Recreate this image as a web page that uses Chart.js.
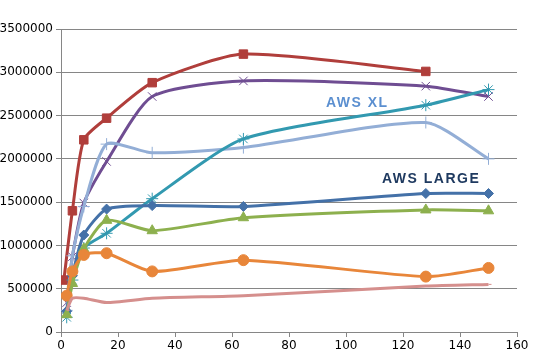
<!DOCTYPE html>
<html>
<head>
<meta charset="utf-8">
<script src="https://cdn.jsdelivr.net/npm/chart.js@4/dist/chart.umd.min.js"></script>
<style>
  html, body { margin: 0; padding: 0; background: #fff; }
  #wrap { position: relative; width: 542px; height: 363px; }
  .tag { position: absolute; font-family: "Liberation Sans", Arial, sans-serif; font-weight: bold; font-size: 14px; letter-spacing: 1.5px; white-space: nowrap; }
</style>
</head>
<body>
<div id="wrap">
  <canvas id="chart" width="542" height="363"></canvas>
  <div class="tag" style="left:326px; top:94px; color:#5B8FD0;">AWS XL</div>
  <div class="tag" style="left:382px; top:170px; color:#1F3A60;">AWS LARGE</div>
</div>
<script>
document.addEventListener('DOMContentLoaded', function() {
    // x positions (threads)
    const xRed = [1, 4, 8, 16, 32, 64, 128];
    const xAll = [2, 4, 8, 16, 32, 64, 128, 150];

    // series values
    const redVals = [600000, 1400000, 2220000, 2470000, 2880000, 3210000, 3010000];
    const purpleVals = [340000, 870000, 1490000, 1970000, 2720000, 2900000, 2840000, 2720000];
    const awsXlVals = [250000, 880000, 1450000, 2170000, 2070000, 2130000, 2420000, 2000000];
    const tealVals = [170000, 600000, 970000, 1140000, 1540000, 2230000, 2620000, 2800000];
    const awsLargeVals = [240000, 650000, 1120000, 1420000, 1460000, 1450000, 1600000, 1600000];
    const greenVals = [200000, 560000, 960000, 1290000, 1170000, 1320000, 1410000, 1400000];
    const orangeVals = [420000, 700000, 890000, 910000, 700000, 830000, 640000, 740000];
    const pinkVals = [250000, 390000, 390000, 340000, 390000, 420000, 530000, 550000];

    const yTicks = [0, 500000, 1000000, 1500000, 2000000, 2500000, 3000000, 3500000];

    function pts(xs, ys) {
        return xs.map(function(x, i) { return { x: x, y: ys[i] }; });
    }

    function series(xs, ys, color, style, radius) {
        return {
            data: pts(xs, ys),
            borderColor: color,
            backgroundColor: color,
            pointStyle: style,
            pointRadius: radius,
            pointBorderWidth: 1,
            borderWidth: 3,
            tension: 0.22,
            fill: false
        };
    }

    const ctx = document.getElementById('chart').getContext('2d');
    new Chart(ctx, {
        type: 'line',
        data: {
            datasets: [
                series(xAll, pinkVals, '#D58F8D', 'dash', 3),
                series(xAll, orangeVals, '#E8863A', 'circle', 5.5),
                series(xAll, greenVals, '#8DB04E', 'triangle', 6),
                series(xAll, awsLargeVals, '#4471A8', 'rectRot', 5),
                series(xAll, tealVals, '#3299B0', 'star', 6),
                series(xAll, awsXlVals, '#93AED6', 'cross', 6),
                series(xAll, purpleVals, '#6F4D92', 'crossRot', 6),
                series(xRed, redVals, '#B03E3B', 'rect', 6)
            ]
        },
        options: {
            responsive: false,
            animation: false,
            layout: { padding: { top: 29, right: 25, left: 0, bottom: 0 } },
            plugins: { legend: { display: false }, tooltip: { enabled: false } },
            scales: {
                x: {
                    type: 'linear',
                    min: 0,
                    max: 160,
                    ticks: { stepSize: 20, color: '#000', font: { family: 'DejaVu Sans', size: 12 }, padding: 2 },
                    grid: { drawOnChartArea: false, tickLength: 5, color: '#868686' },
                    border: { color: '#868686' },
                    afterFit: function(s) { s.height = 31; }
                },
                y: {
                    min: 0,
                    max: 3500000,
                    afterBuildTicks: function(s) { s.ticks = yTicks.map(function(v) { return { value: v }; }); },
                    ticks: {
                        color: '#000',
                        font: { family: 'DejaVu Sans', size: 12 },
                        padding: 3,
                        callback: function(v) { return String(v); }
                    },
                    grid: { tickLength: 5, color: '#868686' },
                    border: { color: '#868686' },
                    afterFit: function(s) { s.width = 61; }
                }
            }
        }
    });
});
</script>
</body>
</html>
